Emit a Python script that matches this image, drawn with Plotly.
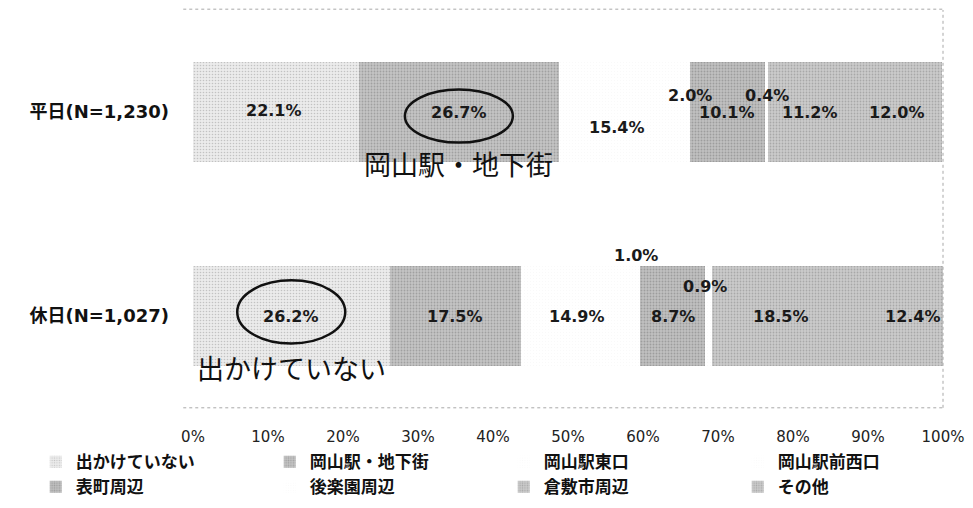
import plotly.graph_objects as go

categories = ["平日(N=1,230)", "休日(N=1,027)"]
series_names = ["出かけていない", "岡山駅・地下街", "岡山駅東口", "岡山駅前西口",
                "表町周辺", "後楽園周辺", "倉敷市周辺", "その他"]
weekday = [22.1, 26.7, 15.4, 2.0, 10.1, 0.4, 11.2, 12.0]
holiday = [26.2, 17.5, 14.9, 1.0, 8.7, 0.9, 18.5, 12.4]
tick_vals = [0, 10, 20, 30, 40, 50, 60, 70, 80, 90, 100]
tick_labels = ["0%", "10%", "20%", "30%", "40%", "50%", "60%", "70%", "80%", "90%", "100%"]
highlight_labels = ["岡山駅・地下街", "出かけていない"]
highlight_series = [1, 0]  # which segment is circled in each row

# styles (bg, fg, solidity) per series
styles = [
    ("#ebebeb", "#9a9a9a", 0.22),
    ("#c4c4c4", "#7c7c7c", 0.30),
    ("#ffffff", "#c4c4c4", 0.04),
    ("#ffffff", "#c4c4c4", 0.04),
    ("#c0c0c0", "#7a7a7a", 0.30),
    ("#ffffff", "#c4c4c4", 0.04),
    ("#cbcbcb", "#858585", 0.28),
    ("#cbcbcb", "#858585", 0.28),
]
# label offsets (px) for tiny segments: (row, series) -> (xshift, yshift)
label_shift = {(0, 3): (8, 17), (0, 5): (0, 17), (1, 3): (0, 61), (1, 5): (-4, 30),
               (0, 2): (0, -15), (1, 7): (16, 0), (0, 0): (-2, 2)}

rows = [weekday, holiday]
fig = go.Figure()
for i, name in enumerate(series_names):
    bg, fg, sol = styles[i]
    fig.add_trace(go.Bar(
        y=categories, x=[weekday[i], holiday[i]], name=name, orientation="h",
        width=0.49,
        marker=dict(color=bg, line=dict(width=0),
                    pattern=dict(shape=".", fgcolor=fg, bgcolor=bg, size=3, solidity=sol,
                                 fillmode="overlay")),
        hoverinfo="skip",
    ))

annotations = []
shapes = []
label_font = dict(family="DejaVu Sans, Noto Sans CJK JP", size=16, color="#1a1a1a", weight="bold")
for r, vals in enumerate(rows):
    start = 0.0
    for i, v in enumerate(vals):
        mid = start + v / 2
        xs, ys = label_shift.get((r, i), (0, 0))
        annotations.append(dict(x=mid, y=r, xref="x", yref="y", text=f"{v:.1f}%",
                                showarrow=False, font=label_font, xshift=xs, yshift=ys))
        if i == highlight_series[r]:
            hw = 7.2
            hh = 0.13 if r == 0 else 0.155
            cy = r + 0.02 if r == 0 else r - 0.02
            shapes.append(dict(type="circle", xref="x", yref="y", x0=mid - hw, x1=mid + hw,
                               y0=cy - hh, y1=cy + hh, line=dict(color="#111111", width=2.5)))
            annotations.append(dict(x=mid, y=r + 0.25, xref="x", yref="y",
                                    text=highlight_labels[r], showarrow=False,
                                    font=dict(family="Noto Sans CJK JP", size=27, color="#111111")))
        start += v

# dotted plot-area border (top, right, bottom)
border = dict(color="#a8a8a8", width=1, dash="dot")
shapes += [
    dict(type="line", xref="paper", yref="paper", x0=-0.013, x1=1, y0=1.002, y1=1.002, line=border),
    dict(type="line", xref="paper", yref="paper", x0=1, x1=1, y0=0.025, y1=1, line=border),
    dict(type="line", xref="paper", yref="paper", x0=-0.013, x1=1, y0=0.025, y1=0.025, line=border),
]

# the page body has an 8px margin, so the figure is 8px smaller on each side
fig.update_layout(
    width=965, height=500,
    margin=dict(l=185, r=30, t=2, b=90, autoexpand=False),
    paper_bgcolor="white", plot_bgcolor="white",
    barmode="stack", bargap=0.5,
    showlegend=True,
    legend=dict(orientation="h", x=-0.2097, xanchor="left", y=-0.064, yanchor="top",
                traceorder="normal", entrywidth=189, entrywidthmode="pixels",
                font=dict(family="Noto Sans CJK JP", size=17, color="#111111", weight="bold"),
                itemwidth=30, tracegroupgap=0, bgcolor="rgba(0,0,0,0)"),
    xaxis=dict(range=[0, 100], tickvals=tick_vals, ticktext=tick_labels, showgrid=False,
               zeroline=False, showline=False, ticks="", ticklabelstandoff=8,
               tickfont=dict(family="DejaVu Sans", size=15, color="#222222")),
    yaxis=dict(range=[1.5, -0.5], showgrid=False, zeroline=False, showline=False, ticks="",
               ticklabelstandoff=23,
               tickfont=dict(family="DejaVu Sans, Noto Sans CJK JP", size=18, color="#111111",
                             weight="bold")),
    annotations=annotations, shapes=shapes,
)

fig.write_html("out.html")
